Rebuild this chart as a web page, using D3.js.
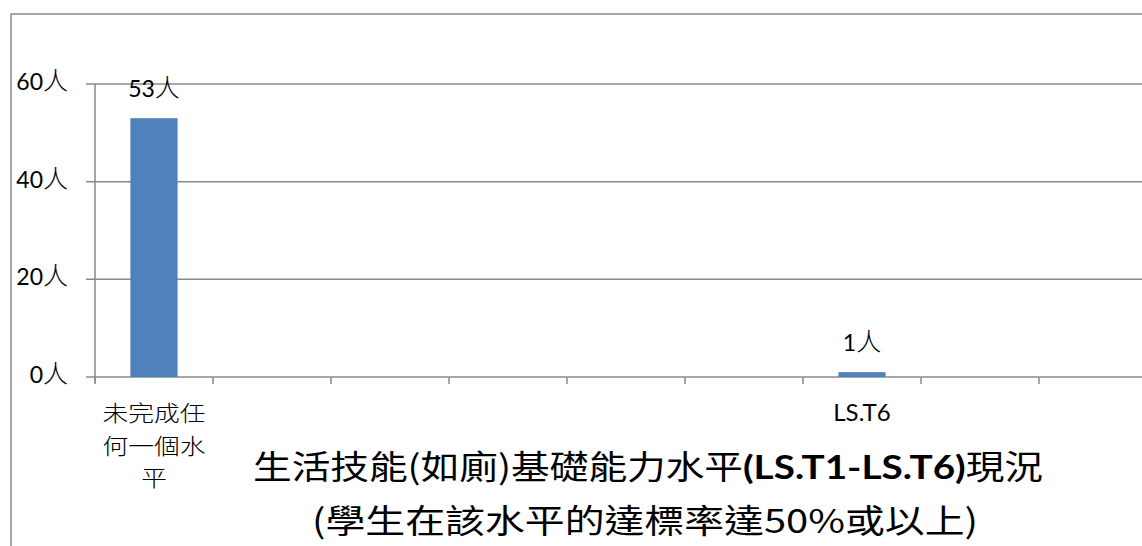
<!DOCTYPE html>
<html>
<head>
<meta charset="utf-8">
<script src="https://cdn.jsdelivr.net/npm/d3@7"></script>
<style>
  html, body { margin: 0; padding: 0; background: #fff; }
  svg { display: block; }
</style>
</head>
<body>
<svg id="chart" width="1142" height="546"></svg>
<script>
// ---- data ----
const categories = ["未完成任何一個水平", "", "", "", "", "", "LS.T6", "", ""];
const values = [53, null, null, null, null, null, 1, null, null];
const yTicks = [0, 20, 40, 60];
const unit = "人";
const titleLine1 = [
  { text: "生活技能(如廁)基礎能力水平", bold: false },
  { text: "(LS.T1-LS.T6)", bold: true },
  { text: "現況", bold: false }
];
const titleLine2 = "(學生在該水平的達標率達50%或以上)";

// ---- layout ----
const W = 1142, H = 546;
const plot = { left: 95, top: 84, bottom: 377, step: 118 };
const gridColor = "#8a8a8a";
const barColor = "#4F81BD";
const latin = "Lato, 'Noto Sans CJK TC', sans-serif";
const cjk = "'Noto Sans CJK TC', sans-serif";

const svg = d3.select("#chart");

// outer border (chart area, cropped at right/bottom)
svg.append("rect")
  .attr("x", 11).attr("y", 14)
  .attr("width", W + 20).attr("height", H + 20)
  .attr("fill", "none").attr("stroke", gridColor).attr("stroke-width", 1.5);

const idx = d3.range(categories.length);
const x = d3.scaleBand().domain(idx)
  .range([plot.left, plot.left + plot.step * categories.length])
  .padding(0);
const y = d3.scaleLinear().domain([0, 60]).range([plot.bottom, plot.top]);

// gridlines
svg.append("g").selectAll("line").data(yTicks).join("line")
  .attr("x1", plot.left - 9).attr("x2", W + 20)
  .attr("y1", d => y(d)).attr("y2", d => y(d))
  .attr("stroke", gridColor).attr("stroke-width", 1.5);

// y axis line
svg.append("line")
  .attr("x1", plot.left).attr("x2", plot.left)
  .attr("y1", y(60)).attr("y2", plot.bottom + 6)
  .attr("stroke", gridColor).attr("stroke-width", 1.5);

// x ticks at band boundaries
const boundaries = idx.map(i => x(i)).concat([x(idx.length - 1) + x.bandwidth()]);
svg.append("g").selectAll("line").data(boundaries).join("line")
  .attr("x1", d => d).attr("x2", d => d)
  .attr("y1", plot.bottom).attr("y2", plot.bottom + 7)
  .attr("stroke", gridColor).attr("stroke-width", 1.5);

function numWithUnit(sel, v) {
  sel.append("tspan").attr("font-family", latin).attr("font-size", 23).text(v);
  sel.append("tspan").attr("font-family", cjk).attr("font-size", 25).attr("font-weight", 300).text(unit);
}

// y tick labels
svg.append("g").selectAll("text").data(yTicks).join("text")
  .attr("x", 68).attr("y", d => y(d) + 6)
  .attr("text-anchor", "end").attr("fill", "#000")
  .each(function(d) { numWithUnit(d3.select(this), d); });

// bars
const barFrac = 0.4;
const bars = idx.filter(i => values[i] != null);
svg.append("g").selectAll("rect").data(bars).join("rect")
  .attr("x", i => x(i) + x.bandwidth() * (1 - barFrac) / 2)
  .attr("width", x.bandwidth() * barFrac)
  .attr("y", i => y(values[i]))
  .attr("height", i => y(0) - y(values[i]))
  .attr("fill", barColor);

// data labels
svg.append("g").selectAll("text").data(bars).join("text")
  .attr("x", i => x(i) + x.bandwidth() / 2)
  .attr("y", i => y(values[i]) - 21)
  .attr("text-anchor", "middle").attr("fill", "#000")
  .each(function(i) { numWithUnit(d3.select(this), values[i]); });

// category labels
function wrap(s) {
  if (/^[\x00-\x7F]*$/.test(s) || s.length <= 4) return [s];
  const out = [];
  for (let k = 0; k < s.length; k += 4) out.push(s.slice(k, k + 4));
  return out;
}
idx.forEach(i => {
  const s = categories[i];
  if (!s) return;
  const lines = wrap(s);
  const cx = x(i) + x.bandwidth() / 2;
  const isLatin = /^[\x00-\x7F]*$/.test(s);
  lines.forEach((ln, k) => {
    svg.append("text")
      .attr("transform", `translate(${cx},${421 + k * 32.5}) scale(${isLatin ? 1 : 1.17},1)`)
      .attr("text-anchor", "middle")
      .attr("font-family", isLatin ? latin : cjk)
      .attr("font-weight", isLatin ? "normal" : 300)
      .attr("font-size", isLatin ? 24 : 22)
      .attr("fill", "#000")
      .text(ln);
  });
});

// title
const t1 = svg.append("text")
  .attr("x", 648).attr("y", 479)
  .attr("text-anchor", "middle")
  .attr("font-size", 33).attr("fill", "#000")
  .attr("textLength", 790).attr("lengthAdjust", "spacingAndGlyphs");
titleLine1.forEach(p => {
  t1.append("tspan")
    .attr("font-family", p.bold ? "Lato, sans-serif" : cjk)
    .attr("font-weight", p.bold ? "bold" : "normal")
    .text(p.text);
});
svg.append("text")
  .attr("x", 645).attr("y", 533)
  .attr("text-anchor", "middle")
  .attr("font-family", cjk)
  .attr("font-size", 33).attr("fill", "#000")
  .attr("textLength", 666).attr("lengthAdjust", "spacingAndGlyphs")
  .text(titleLine2);
</script>
</body>
</html>
